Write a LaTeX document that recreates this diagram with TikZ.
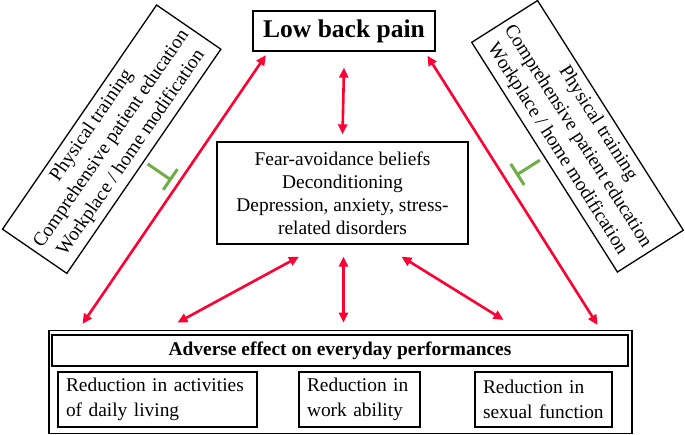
\documentclass[tikz,border=0pt]{standalone}
\usepackage{fontspec}
\setmainfont{Liberation Serif}
\usetikzlibrary{arrows.meta}
\definecolor{painred}{RGB}{255, 0, 51}
\definecolor{therapygreen}{RGB}{112, 173, 71}

\begin{document}
\begin{tikzpicture}[x=1pt,y=1pt,
	every node/.style={font=\fontsize{19.4}{23}\selectfont},
	box/.style={draw,line width=1.3pt,inner sep=0pt,align=center},
	therapy/.style={box,minimum width=272pt,minimum height=78pt,font=\fontsize{19.4}{24}\selectfont},
	effect/.style={box,align=left,inner xsep=8pt,text width=#1,minimum height=55pt,font=\fontsize{19.4}{24.3}\selectfont},
	arr/.style={painred,line width=2.6pt,{Triangle[length=10pt,width=9pt]}-{Triangle[length=10pt,width=9pt]}},
	inh/.style={therapygreen,line width=3pt,-{Bar[width=25pt]}}]
		\useasboundingbox (0,0) rectangle (685,435);
		\node[box,minimum width=182pt,minimum height=40pt,font=\fontsize{25.5}{30}\selectfont\bfseries] (lbp) at (344,404) {Low back pain};
		\node[box,minimum width=251pt,minimum height=102pt] (mid) at (342.5,242) {Fear-avoidance beliefs\\Deconditioning\\Depression, anxiety, stress-\\related disorders};
		% treatment boxes
		\node[therapy,rotate=55.5] (lbox) at (111.7,295.8) {Physical training\\Comprehensive patient education\\Workplace / home modification};
		\node[therapy,rotate=-57.6] (rbox) at (577.5,298.7) {Physical training\\Comprehensive patient education\\Workplace / home modification};
		% everyday performances
		\node[draw,line width=1.1pt,minimum width=583pt,minimum height=103pt] (outer) at (340.5,53) {};
		\node[box,minimum width=576pt,minimum height=31pt,font=\fontsize{19.4}{23}\selectfont\bfseries] (adv) at (340,84.5) {Adverse effect on everyday performances};
		\node[effect=183pt] (adl) at (157.5,35.5) {Reduction in activities\\of daily living};
		\node[effect=105pt] (work) at (359.5,35.5) {Reduction in\\work ability};
		\node[effect=121pt] (sex) at (543.5,35.5) {Reduction in\\sexual function};
		% red arrows
		\draw[arr] ([yshift=-16pt]lbp.south) -- ([yshift=7pt]mid.north);
		\draw[arr] ([xshift=34pt,yshift=6pt]outer.north west) -- ([xshift=13.5pt,yshift=-3.5pt]lbp.south west);
		\draw[arr] ([xshift=-35pt,yshift=5pt]outer.north east) -- ([xshift=-8.3pt,yshift=-4pt]lbp.south east);
		\draw[arr] ([xshift=-43.5pt,yshift=-12pt]mid.south) -- ([xshift=129pt,yshift=7.3pt]outer.north west);
		\draw[arr] ([xshift=1pt,yshift=-12pt]mid.south) -- ([xshift=3pt,yshift=7.3pt]outer.north);
		\draw[arr] ([xshift=59pt,yshift=-12pt]mid.south) -- ([xshift=-129pt,yshift=10pt]outer.north east);
		% green inhibition
		\draw[inh] (lbox.south) ++(-34.5:4) -- ++(-34.5:29);
		\draw[inh] (rbox.south) ++(-147.6:5) -- ++(-147.6:28);
	\end{tikzpicture}
\end{document}
